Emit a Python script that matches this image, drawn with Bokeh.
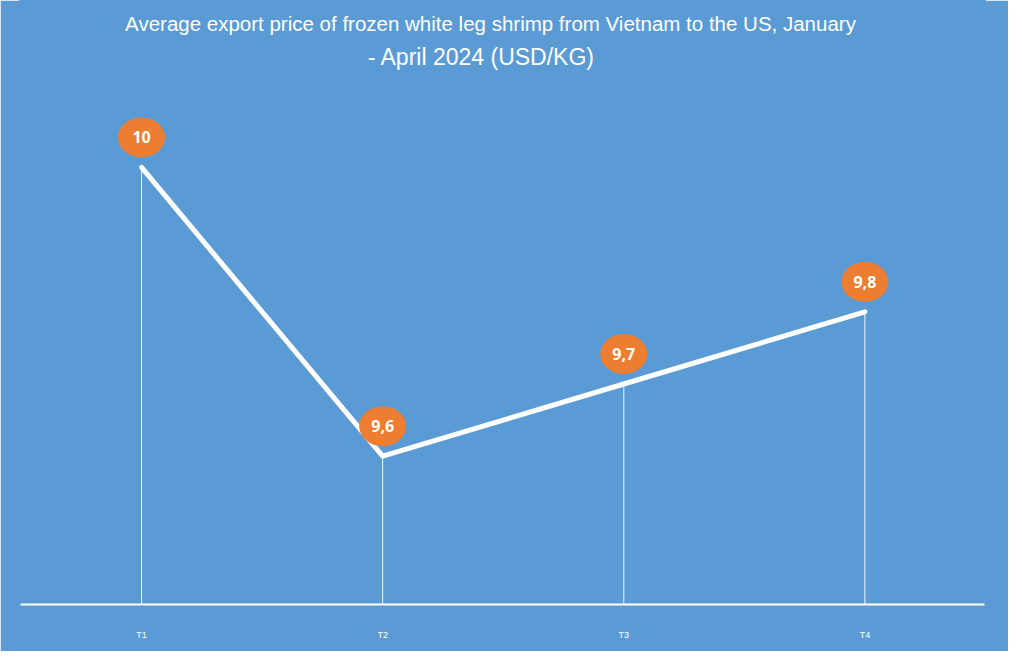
from bokeh.plotting import figure
from bokeh.models import Range1d, Label, FixedTicker, ColumnDataSource
from bokeh.core.properties import value
from bokeh.embed import file_html
from bokeh.resources import INLINE

months = ["T1", "T2", "T3", "T4"]
prices = [10.0, 9.6, 9.7, 9.8]
price_labels = ["10", "9,6", "9,7", "9,8"]
title_lines = ["Average export price of frozen white leg shrimp from Vietnam to the US, January",
               "- April 2024 (USD/KG)"]

BG = "#5b9bd5"
ORANGE = "#ed7d31"

xs = list(range(len(months)))
y_min = 9.3946
src = ColumnDataSource(dict(
    x=xs, y=prices, lbl=price_labels,
    ylab=[v + 0.0416 for v in prices],
    ybase=[y_min] * len(prices),
))

p = figure(width=1008, height=651, output_backend="svg", toolbar_location=None,
           x_range=Range1d(-0.502, 3.496), y_range=Range1d(y_min, 10.2312),
           min_border_left=20, min_border_right=24, min_border_top=0, min_border_bottom=47,
           background_fill_color=BG, border_fill_color=BG,
           outline_line_color=BG, outline_line_width=3)

p.grid.visible = False
p.yaxis.visible = False

ax = p.xaxis[0]
ax.ticker = FixedTicker(ticks=xs)
ax.major_label_overrides = {i: m for i, m in enumerate(months)}
ax.axis_line_color = "white"
ax.axis_line_width = 2
ax.major_tick_line_color = None
ax.minor_tick_line_color = None
ax.major_label_text_color = "white"
ax.major_label_text_font = "Liberation Sans"
ax.major_label_text_font_size = "9px"
ax.major_label_standoff = 19

p.segment(x0="x", y0="y", x1="x", y1="ybase", source=src, line_color="white", line_width=1, line_alpha=0.9)
p.line(x="x", y="y", source=src, line_color="white", line_width=5, line_cap="round", line_join="round")
p.ellipse(x="x", y="ylab", width=47, height=40, width_units="screen", height_units="screen",
          source=src, fill_color=ORANGE, line_color=None)
p.text(x="x", y="ylab", text="lbl", source=src, text_color="white", text_font=value("Open Sans"),
       text_font_style="bold", text_font_size="16px", text_align="center", text_baseline="middle")

for t, xx, yy, fs in zip(title_lines, [470, 461], [581, 548], ["20.5px", "23px"]):
    p.add_layout(Label(x=xx, y=yy, x_units="screen", y_units="screen",
                       text=t, text_color="white", text_font="Liberation Sans",
                       text_font_size=fs, text_align="center", text_baseline="middle"))

open("out.html", "w").write(file_html(p, INLINE))
